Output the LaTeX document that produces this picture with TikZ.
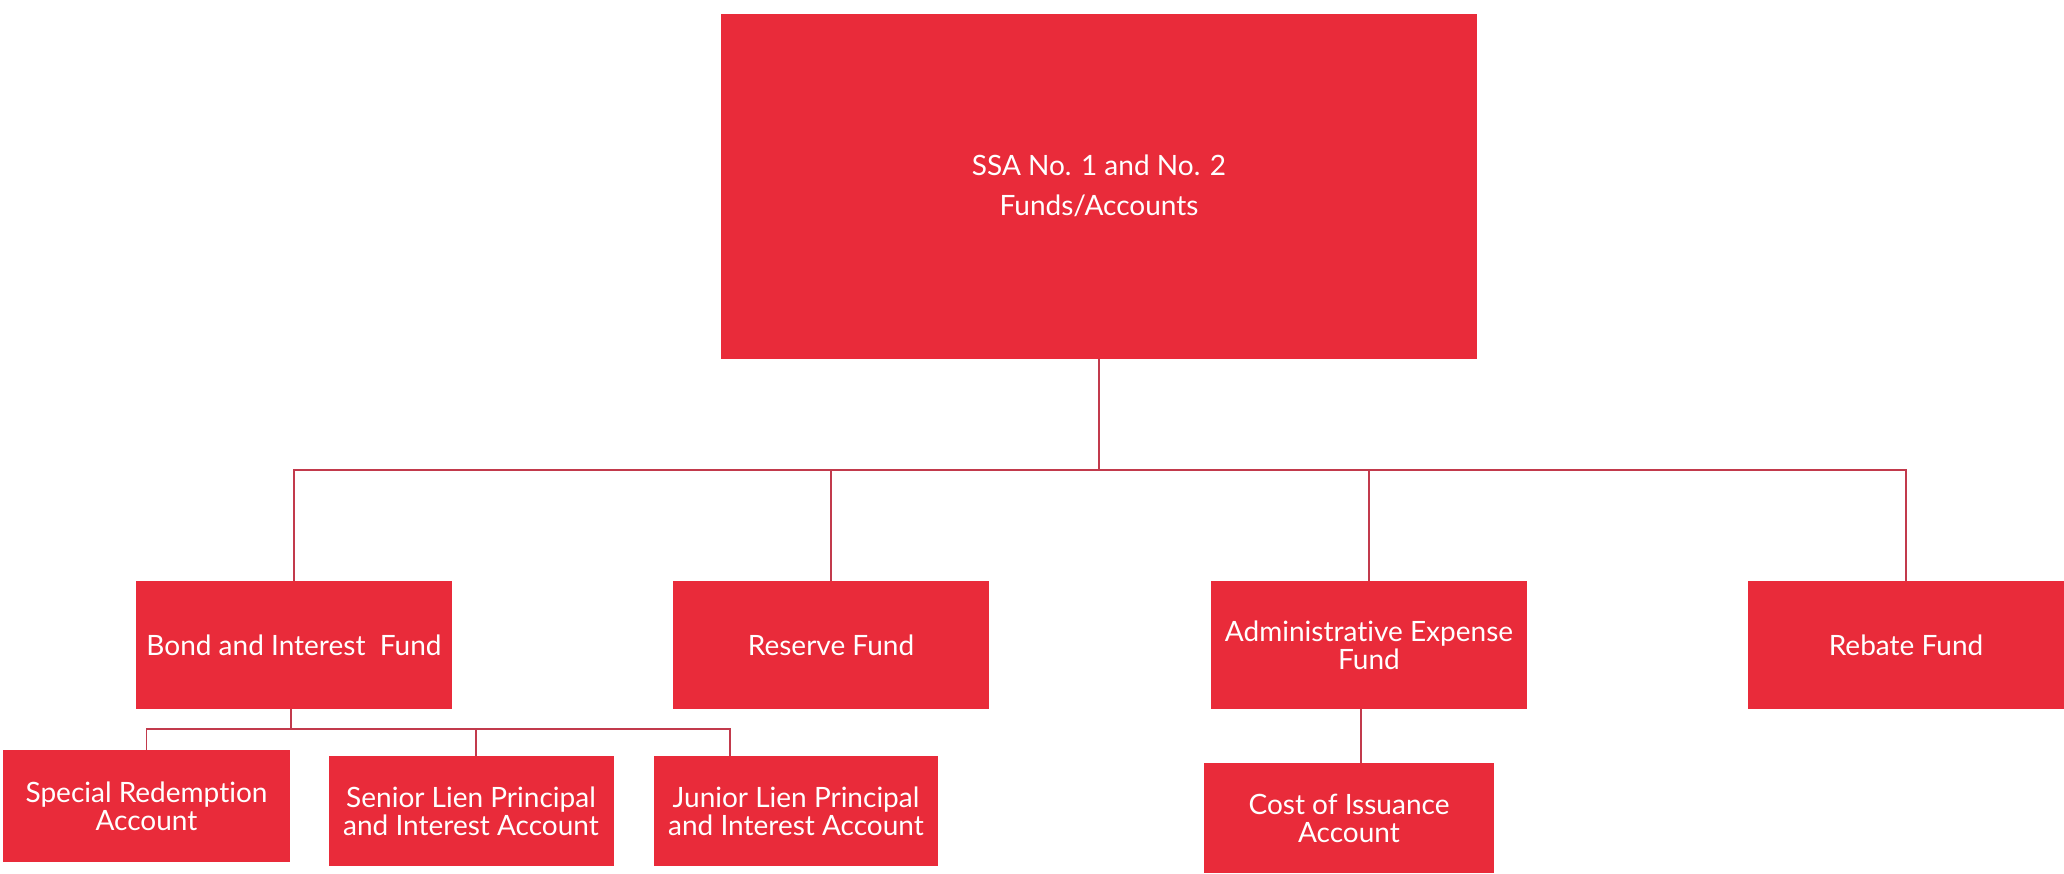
\documentclass[tikz,border=0pt]{standalone}
\usepackage{fontspec}
\setmainfont[Ligatures={NoCommon,NoRare,NoContextual}]{Lato}
\definecolor{boxred}{HTML}{E92B3A}
\definecolor{linered}{HTML}{C23A4C}
\begin{document}
\begin{tikzpicture}[x=0.5pt,y=-0.5pt,
  fund/.style={fill=boxred,draw=none,text=white,align=center,inner sep=0pt,
    font=\fontsize{14pt}{14pt}\selectfont},
  conn/.style={draw=linered,line width=0.9pt}]
\useasboundingbox (0,0) rectangle (2064,873);
\node[fund,minimum width=378pt,minimum height=172.5pt,font=\fontsize{14pt}{20pt}\selectfont] (top) at (1099,186) {SSA No. 1 and No. 2\\Funds/Accounts};
\node[fund,minimum width=158pt,minimum height=64pt] (bond) at (294,645) {Bond and Interest\ \ Fund};
\node[fund,minimum width=158pt,minimum height=64pt] (res) at (831,645) {Reserve Fund};
\node[fund,minimum width=158pt,minimum height=64pt] (adm) at (1369,645) {Administrative Expense\\Fund};
\node[fund,minimum width=158pt,minimum height=64pt] (reb) at (1906,645) {Rebate Fund};
\node[fund,minimum width=143.5pt,minimum height=56pt] (spec) at (146.5,806) {Special Redemption\\Account};
\node[fund,minimum width=142.5pt,minimum height=55pt] (sen) at (471,811) {Senior Lien Principal\\and Interest Account};
\node[fund,minimum width=142pt,minimum height=55pt] (jun) at (796,811) {Junior Lien Principal\\and Interest Account};
\node[fund,minimum width=145pt,minimum height=55pt] (cost) at (1349,818) {Cost of Issuance\\Account};
\coordinate (hub) at (1099,470);
\coordinate (sub) at (291,729);
\draw[conn] (top.south) -- (hub);
\draw[conn] (hub) -| (bond.north);
\draw[conn] (hub) -| (res.north);
\draw[conn] (hub) -| (adm.north);
\draw[conn] (hub) -| (reb.north);
\draw[conn] (bond.south -| sub) -- (sub);
\draw[conn] (sub) -| (spec.north);
\draw[conn] (sub) -| ([xshift=2.5pt]sen.north);
\draw[conn] (sub) -| ([xshift=-33pt]jun.north);
\draw[conn] ([xshift=-4pt]adm.south) -- ([xshift=-4pt]adm.south |- cost.north);
\end{tikzpicture}
\end{document}
